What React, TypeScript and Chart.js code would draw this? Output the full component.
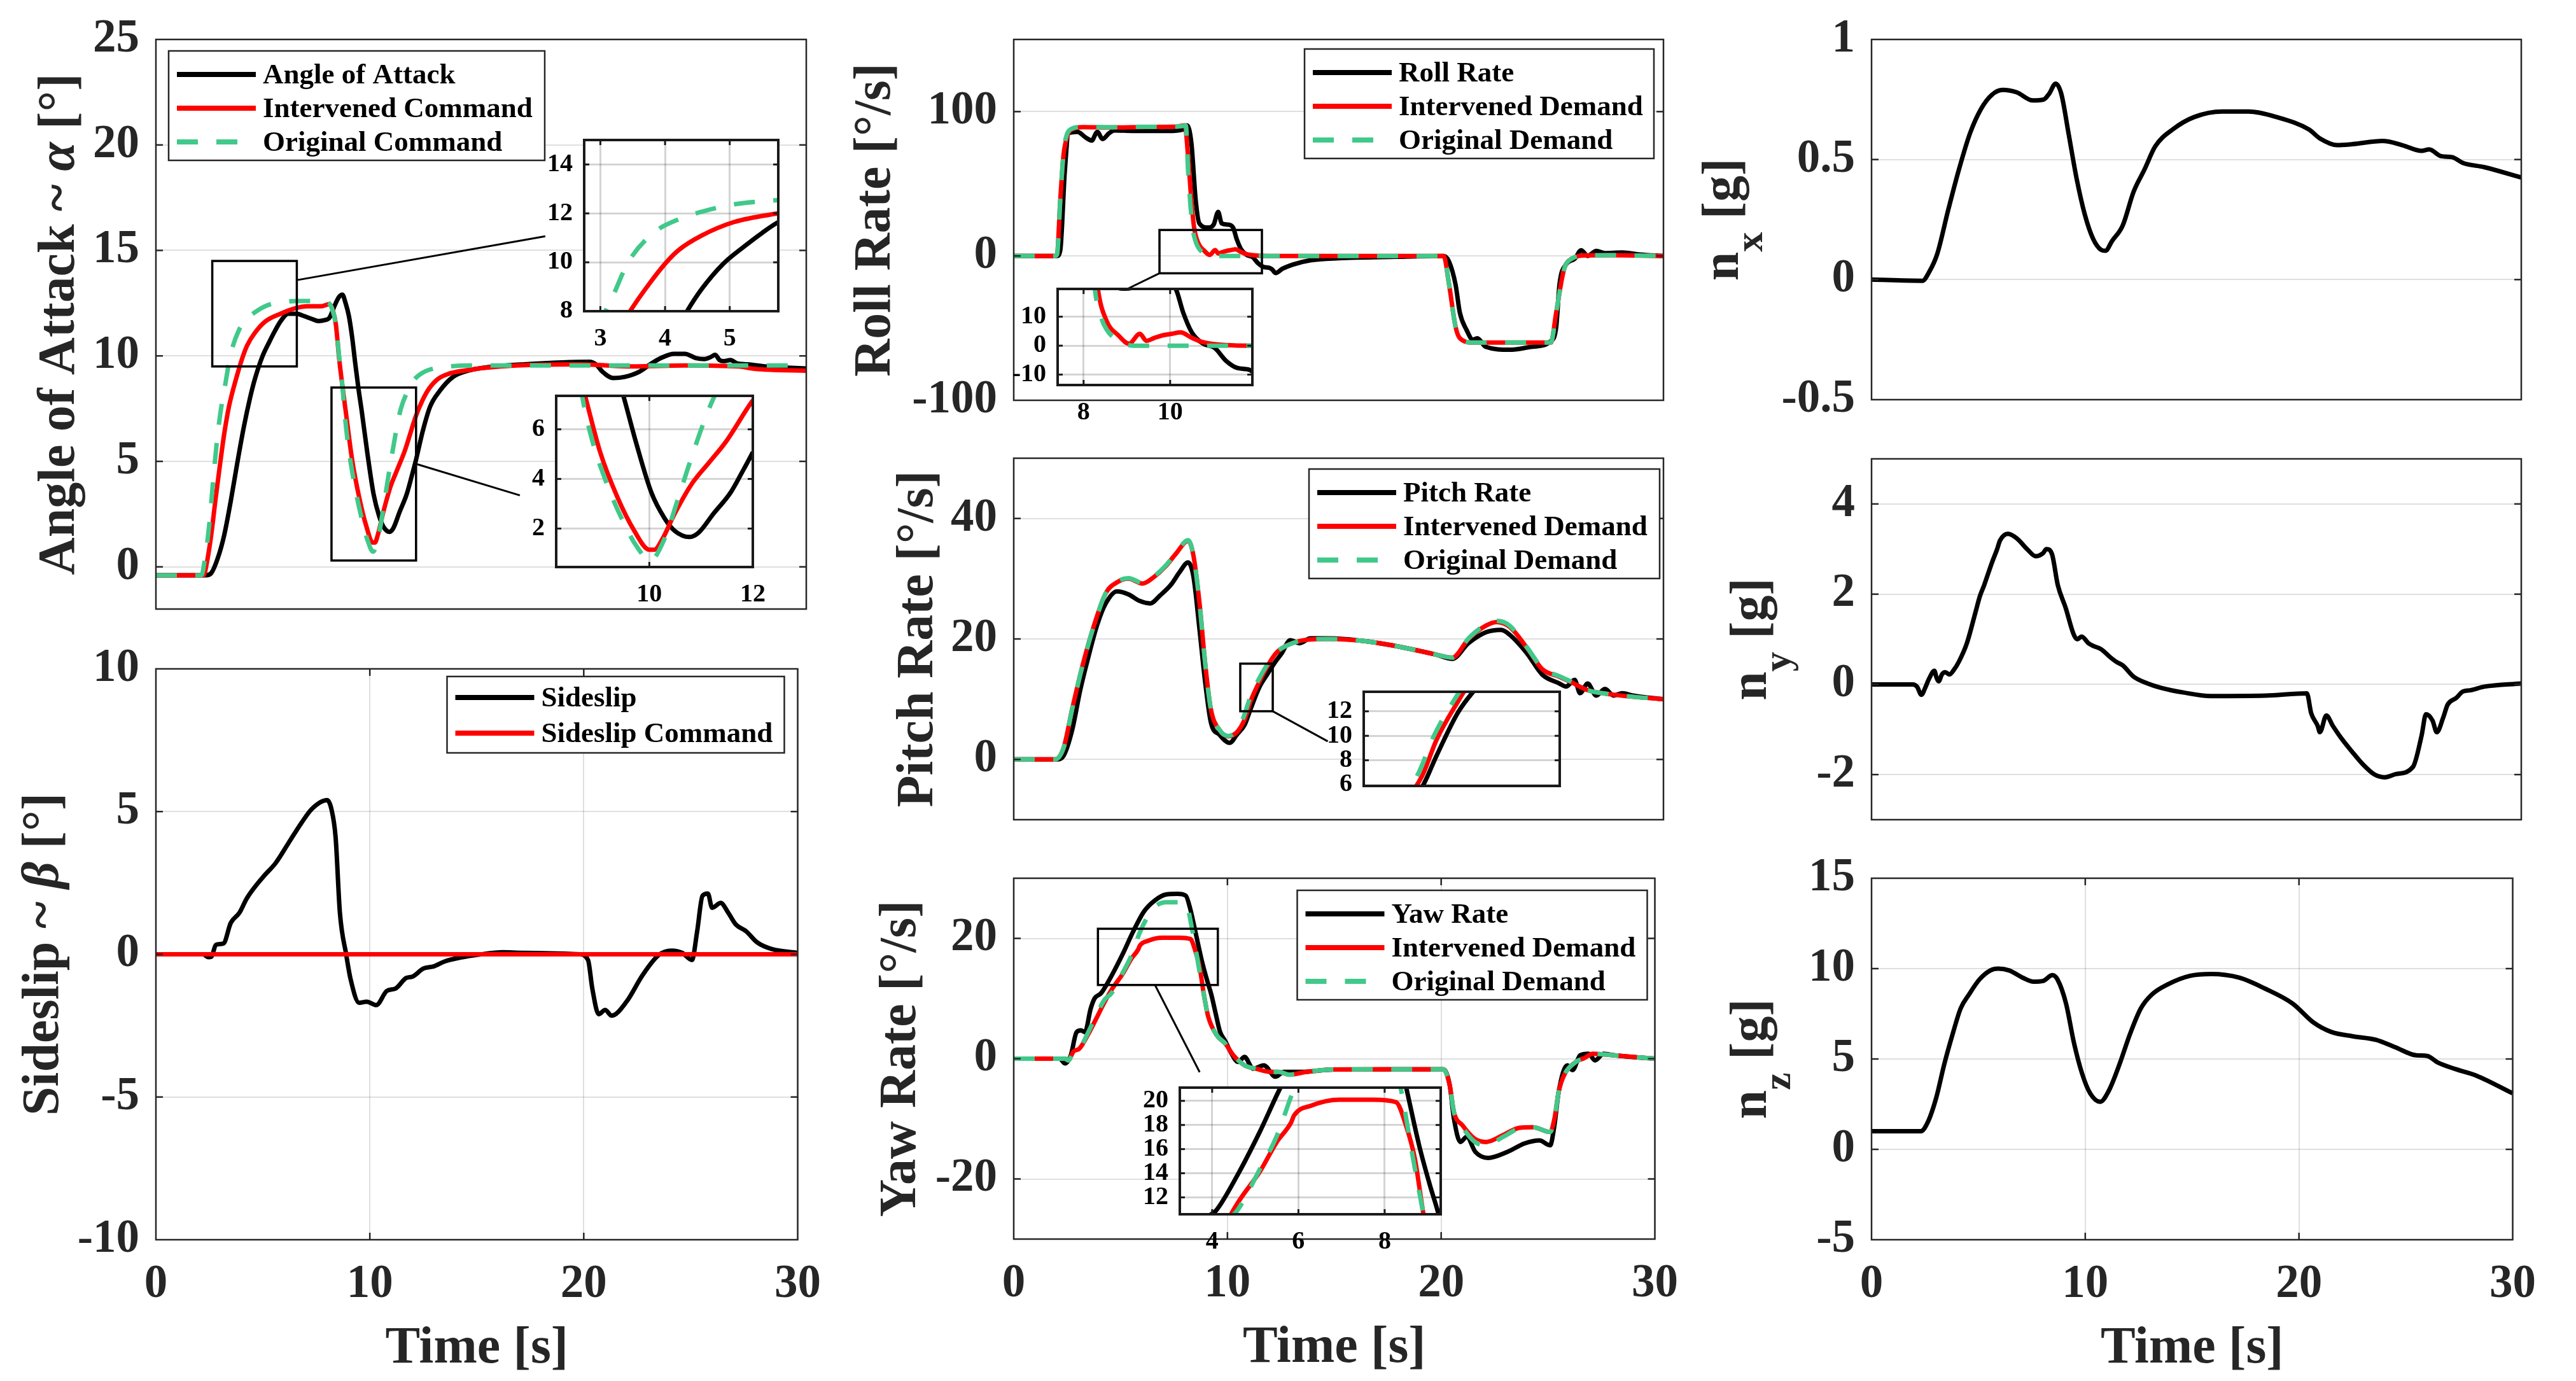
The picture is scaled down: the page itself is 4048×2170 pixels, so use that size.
import React, { useEffect, useRef } from 'react';
import { Chart, registerables } from 'chart.js';

Chart.register(...registerables);

type Pt = [number, number];

// ---------------- tick values ----------------
const timeTicks = [0, 10, 20, 30];
const aoaTicks = [0, 5, 10, 15, 20, 25];
const betaTicks = [-10, -5, 0, 5, 10];
const rollTicks = [-100, 0, 100];
const pitchTicks = [0, 20, 40];
const yawTicks = [-20, 0, 20];
const nxTicks = [-0.5, 0, 0.5, 1];
const nyTicks = [-2, 0, 2, 4];
const nzTicks = [-5, 0, 5, 10, 15];

const aoaInsetAX = [3, 4, 5];
const aoaInsetAY = [8, 10, 12, 14];
const aoaInsetBX = [10, 12];
const aoaInsetBY = [2, 4, 6];
const rollInsetX = [8, 10];
const rollInsetY = [-10, 0, 10];
const pitchInsetY = [6, 8, 10, 12];
const yawInsetX = [4, 6, 8];
const yawInsetY = [12, 14, 16, 18, 20];

// ---------------- legend labels ----------------
const aoaLegend = ['Angle of Attack', 'Intervened Command', 'Original Command'];
const betaLegend = ['Sideslip', 'Sideslip Command'];
const rollLegend = ['Roll Rate', 'Intervened Demand', 'Original Demand'];
const pitchLegend = ['Pitch Rate', 'Intervened Demand', 'Original Demand'];
const yawLegend = ['Yaw Rate', 'Intervened Demand', 'Original Demand'];

// ---------------- series (time [s], value) ----------------
const aoaActual: Pt[] = [[0,-0.4],[2.3,-0.4],[2.55,-0.3],[2.85,0.4],[3.15,1.5],[3.45,3.1],[3.75,4.9],[4.05,6.6],[4.34,8.0],[4.57,8.92],[4.9,9.94],[5.23,10.66],[5.5,11.2],[5.75,11.64],[6.1,12.0],[6.5,12.0],[6.8,11.9],[7.2,11.75],[7.5,11.65],[7.8,11.7],[8.0,11.8],[8.25,12.4],[8.45,12.8],[8.6,12.9],[8.75,12.5],[8.9,11.9],[9.05,10.9],[9.2,9.6],[9.35,8.4],[9.5,7.34],[9.75,5.42],[10.04,3.45],[10.29,2.43],[10.49,1.91],[10.78,1.66],[10.95,1.83],[11.24,2.6],[11.57,3.45],[11.8,4.3],[12.0,5.08],[12.3,6.4],[12.65,7.6],[13.1,8.35],[13.7,9.0],[14.4,9.3],[15.2,9.45],[17.0,9.6],[20.0,9.72],[20.3,9.6],[20.6,9.25],[21.1,8.95],[21.6,9.0],[22.3,9.25],[22.8,9.6],[23.3,9.9],[23.9,10.1],[24.4,10.1],[24.9,9.9],[25.3,9.85],[25.6,9.95],[25.8,10.05],[26.0,9.8],[26.2,9.75],[26.5,9.8],[26.8,9.65],[27.3,9.6],[28.1,9.5],[29.0,9.45],[30,9.4]];
const aoaIntervened: Pt[] = [[0,-0.4],[2.2,-0.4],[2.35,0.2],[2.55,1.5],[2.75,3.2],[2.95,4.8],[3.15,6.3],[3.35,7.5],[3.46,8.0],[3.75,9.1],[4.02,10.0],[4.21,10.5],[4.57,11.1],[5.07,11.65],[5.75,12.0],[6.4,12.25],[7.0,12.35],[7.6,12.35],[8.0,12.45],[8.15,12.2],[8.3,11.5],[8.45,9.9],[8.6,8.6],[8.76,7.34],[9.05,5.08],[9.38,3.28],[9.71,1.91],[10.0,1.15],[10.1,1.15],[10.25,1.57],[10.49,2.6],[10.82,3.8],[11.15,4.65],[11.48,5.5],[12.0,7.17],[12.3,7.9],[12.6,8.45],[13.0,8.9],[13.5,9.15],[14.2,9.3],[15.9,9.5],[19.6,9.6],[22.0,9.5],[24.4,9.55],[26.9,9.5],[27.5,9.4],[28.1,9.35],[30,9.3]];
const aoaOriginal: Pt[] = [[0,-0.4],[2.1,-0.4],[2.25,0.3],[2.45,1.9],[2.65,4.2],[2.85,6.3],[3.08,8.0],[3.2,8.66],[3.43,10.0],[3.82,11.2],[4.25,11.8],[4.57,12.07],[5.07,12.37],[5.75,12.54],[6.5,12.6],[7.4,12.6],[7.9,12.55],[8.1,12.3],[8.3,11.5],[8.45,10.0],[8.6,8.6],[8.7,7.34],[8.89,5.6],[9.18,3.8],[9.46,2.43],[9.75,1.3],[10.02,0.72],[10.29,1.57],[10.54,3.1],[10.78,4.65],[11.11,6.6],[11.3,7.5],[11.6,8.3],[11.9,8.85],[12.3,9.2],[12.8,9.4],[13.5,9.5],[14.5,9.55],[30,9.55]];

const betaActual: Pt[] = [[0,0],[2.2,0],[2.45,-0.1],[2.6,-0.08],[2.8,0.33],[3.16,0.38],[3.5,1.1],[3.9,1.45],[4.25,1.96],[5.0,2.7],[5.6,3.2],[6.2,3.9],[6.8,4.6],[7.3,5.1],[8.0,5.4],[8.2,5.1],[8.4,4.1],[8.6,1.46],[8.9,-0.03],[9.1,-0.87],[9.5,-1.7],[9.85,-1.66],[10.3,-1.78],[10.8,-1.28],[11.2,-1.2],[11.7,-0.83],[12.0,-0.78],[12.5,-0.5],[13.0,-0.42],[13.5,-0.25],[14.2,-0.12],[15.2,0],[16.2,0.07],[17.15,0.05],[19.8,0],[20.2,-0.2],[20.4,-1.2],[20.7,-2.1],[21.0,-1.95],[21.3,-2.15],[22.0,-1.66],[22.75,-0.73],[23.5,-0.03],[24.1,0.13],[24.6,0.05],[25.06,-0.2],[25.3,0.8],[25.55,2.05],[25.8,2.13],[26.0,1.63],[26.4,1.8],[26.75,1.46],[27.1,1.05],[27.6,0.8],[28.1,0.42],[28.8,0.18],[30,0.05]];
const betaCommand: Pt[] = [[0,0],[30,0]];

const rollActual: Pt[] = [[0,0],[2.0,0],[2.15,4],[2.36,59],[2.54,85],[2.94,86],[3.33,82],[3.6,80],[3.86,86],[4.1,81],[4.4,85],[4.64,87],[5.56,86.6],[7.13,86.6],[7.8,87.6],[8.0,90.5],[8.2,78.7],[8.4,39],[8.57,22.6],[8.97,19.7],[9.23,21.7],[9.44,30.5],[9.6,22.6],[9.9,21.7],[10.13,19.6],[10.3,11.5],[10.5,4.6],[10.76,0.7],[11.03,-0.8],[11.29,-5.2],[11.55,-7.7],[11.8,-8.2],[11.92,-9.2],[12.1,-11.8],[12.4,-8.9],[12.9,-5.9],[13.7,-3],[15.0,-1.6],[17.6,-0.6],[19.85,0],[20.1,-3.9],[20.4,-19.7],[20.6,-39.4],[20.9,-51],[21.2,-58],[21.4,-57],[21.8,-63],[22.9,-65],[23.9,-63],[24.8,-59],[25.05,-49],[25.2,-19.7],[25.5,-5.9],[25.9,-2],[26.2,4],[26.5,0],[26.9,3.5],[27.3,2],[28.1,2.4],[28.9,1],[30,0]];
const rollIntervened: Pt[] = [[0,0],[1.9,0],[2.0,1],[2.15,39],[2.3,70],[2.4,79],[2.55,86],[2.67,87.6],[3.2,89.3],[4.5,89],[6.1,89.4],[7.5,89.6],[7.9,90.5],[8.05,69],[8.2,39],[8.33,19.6],[8.53,8.6],[8.8,3.6],[9.05,0.7],[9.3,4.1],[9.45,1.7],[9.64,2.7],[9.84,3.6],[10.04,4.1],[10.24,4.6],[10.5,2.7],[10.76,1.2],[11.29,0.2],[12,0],[19.85,0],[20.1,-19.7],[20.4,-49],[20.6,-57],[21.2,-60],[24.8,-60],[25.05,-39],[25.4,-9.8],[25.75,-2],[26.5,0.4],[27.5,0.5],[30,0]];
const rollOriginal: Pt[] = [[0,0],[1.9,0],[2.0,1],[2.15,39],[2.3,72],[2.45,84],[2.65,88],[3.2,89.5],[4.5,89.2],[6.1,89.5],[7.5,89.6],[7.95,90.3],[8.05,59],[8.26,19.6],[8.4,10],[8.53,5.6],[8.8,1.7],[9.18,0],[19.85,0],[20.1,-19.7],[20.4,-49],[20.6,-57],[21.2,-60],[24.8,-60],[25.05,-39],[25.4,-9.8],[25.75,-2],[26.5,0.4],[27.5,0.5],[30,0]];

const pitchActual: Pt[] = [[0,0],[2.0,0],[2.3,0.6],[2.7,4.9],[3.07,11.5],[3.46,17.2],[3.86,22.4],[4.25,25.9],[4.77,27.9],[5.3,27.4],[5.82,26.3],[6.3,25.9],[6.75,27.2],[7.26,29],[7.66,31.1],[8.05,32.7],[8.3,30.3],[8.58,21.5],[8.84,12.8],[9.1,6.2],[9.5,4.1],[9.97,2.75],[10.3,4.1],[10.67,5.8],[10.94,8.4],[11.33,11.9],[11.7,14.1],[12.1,16.3],[12.37,17.6],[12.77,19.8],[13.2,19.3],[13.7,20.1],[14.5,20.1],[16.3,19.6],[18.1,18.5],[19.5,17.4],[20.25,16.7],[21.0,19.3],[21.8,21.1],[22.5,21.5],[22.9,20.7],[23.7,17.6],[24.4,14.1],[25.2,12.6],[25.5,12.1],[25.9,13.2],[26.15,11.0],[26.5,12.6],[26.9,10.6],[27.3,11.7],[27.7,10.6],[28.1,11],[28.6,10.6],[30,10]];
const pitchIntervened: Pt[] = [[0,0],[1.9,0],[2.3,1.9],[2.7,8.4],[3.2,15.9],[3.72,22.4],[4.25,27.6],[4.77,29.4],[5.3,30],[5.95,29.2],[6.48,30.3],[7.0,32],[7.5,34.2],[8.05,36.3],[8.3,33.8],[8.58,25.9],[8.84,15.9],[9.1,8.4],[9.5,4.9],[9.9,3.85],[10.3,4.5],[10.67,6.7],[10.94,9.7],[11.33,12.8],[11.7,15.4],[12.1,17.6],[12.6,18.9],[13.4,19.8],[14.5,20],[16.3,19.6],[18.1,18.5],[19.5,17.4],[20.25,16.9],[21.0,20],[21.8,22.2],[22.3,22.8],[22.9,22],[23.7,18.5],[24.4,15],[25.2,13.7],[25.75,12.8],[26.5,11.5],[27.6,10.8],[28.6,10.4],[30,10]];
const pitchOriginal: Pt[] = [[0,0],[1.9,0],[2.3,1.9],[2.7,8.4],[3.2,15.9],[3.72,22.4],[4.25,27.6],[4.77,29.5],[5.3,30.1],[5.95,29.3],[6.48,30.4],[7.0,32.1],[7.5,34.3],[8.05,36.4],[8.3,33.8],[8.58,25.9],[8.84,15.9],[9.1,8.4],[9.5,4.9],[9.9,3.9],[10.3,4.8],[10.6,6.9],[10.9,10.1],[11.3,13.2],[11.7,15.7],[12.1,17.7],[12.6,18.9],[13.4,19.8],[14.5,20],[16.3,19.6],[18.1,18.5],[19.5,17.4],[20.25,16.9],[21.0,20.1],[21.8,22.4],[22.3,23.0],[22.9,22.2],[23.7,18.6],[24.4,15.2],[25.2,13.8],[25.75,12.9],[26.5,11.5],[27.6,10.8],[28.6,10.4],[30,10]];

const yawActual: Pt[] = [[0,0],[2.15,0],[2.4,-0.8],[2.67,0.55],[2.94,4.4],[3.15,4.7],[3.33,4.4],[3.6,8.3],[3.78,10],[4.09,10.9],[4.58,13.8],[5.1,17.4],[5.57,21.0],[6.08,24.4],[6.6,26.3],[7.13,27.3],[7.66,27.4],[8.05,27.1],[8.26,24.9],[8.5,21.1],[8.8,16.3],[9.05,13],[9.25,10.6],[9.45,7.5],[9.65,4.5],[9.9,2.9],[10.15,1.1],[10.5,-0.55],[10.8,0.28],[11.2,-1.66],[11.7,-1.1],[12.25,-3.0],[12.64,-2.2],[13.4,-2.2],[15,-1.8],[17.6,-1.77],[20.1,-1.77],[20.4,-4.4],[20.6,-10],[20.9,-13.85],[21.2,-13.0],[21.6,-15.5],[22.2,-16.5],[23.1,-15.5],[23.9,-14.1],[24.6,-13.6],[25.1,-14.4],[25.3,-11.1],[25.5,-5.5],[25.9,-1.1],[26.15,-1.9],[26.5,0.55],[26.9,0.83],[27.2,-0.28],[27.6,0.83],[28.1,0.55],[30,0]];
const yawIntervened: Pt[] = [[0,0],[2.4,0],[2.55,-0.3],[2.8,1.2],[3.07,1.66],[3.46,3.9],[3.86,6.65],[4.25,9.4],[4.64,11.8],[5.1,14.1],[5.5,16.6],[5.83,18.2],[5.9,18.8],[6.29,19.6],[6.95,20.1],[7.74,20.1],[8.26,19.9],[8.5,17.9],[8.7,15.2],[8.9,10.6],[9.1,7.0],[9.5,3.9],[9.9,2.5],[10.28,0.55],[10.8,-1.1],[11.33,-1.66],[12.0,-2.2],[12.4,-2.2],[12.9,-2.66],[13.7,-2.2],[15,-1.8],[17.6,-1.77],[20.1,-1.77],[20.4,-4.4],[20.6,-8.9],[21.0,-11.1],[21.56,-13.3],[22.1,-13.85],[22.9,-12.7],[23.65,-11.5],[24.3,-11.4],[25.1,-12.2],[25.3,-10],[25.5,-5.5],[25.75,-2.77],[26.3,-0.55],[26.7,0.1],[27.1,0.83],[28.1,0.55],[30,0]];
const yawOriginal: Pt[] = [[0,0],[2.4,0],[2.55,-0.3],[2.8,1.2],[3.07,1.66],[3.46,4.2],[3.86,7.2],[4.25,9.8],[4.58,10.9],[5.1,14.3],[5.5,17.1],[5.9,21.0],[6.3,23.8],[6.7,25.5],[7.13,26.0],[7.8,26.0],[8.05,25.8],[8.37,21.1],[8.66,15.2],[8.9,10.6],[9.1,7.0],[9.5,3.9],[9.9,2.5],[10.28,0.55],[10.8,-1.1],[11.33,-1.66],[12.0,-2.2],[12.4,-2.2],[12.9,-2.66],[13.7,-2.2],[15,-1.8],[17.6,-1.77],[20.1,-1.77],[20.4,-4.4],[20.6,-8.9],[21.0,-11.4],[21.56,-13.8],[22.1,-14.4],[22.9,-13.0],[23.65,-11.6],[24.3,-11.4],[25.1,-12.2],[25.3,-10],[25.5,-5.5],[25.75,-2.77],[26.3,-0.55],[26.7,0.1],[27.1,0.83],[28.1,0.55],[30,0]];

const nxActual: Pt[] = [[0,0],[2.35,-0.005],[2.65,0.03],[3.03,0.106],[3.54,0.29],[4.04,0.46],[4.55,0.61],[5.05,0.71],[5.56,0.77],[6.06,0.79],[6.7,0.78],[7.45,0.746],[7.95,0.75],[8.2,0.774],[8.5,0.816],[8.76,0.774],[9.1,0.607],[9.47,0.42],[9.85,0.27],[10.23,0.17],[10.6,0.124],[10.8,0.12],[11.1,0.16],[11.6,0.226],[12.1,0.366],[12.6,0.458],[13.1,0.555],[13.9,0.625],[14.9,0.677],[16.2,0.7],[17.4,0.7],[18.7,0.677],[20.2,0.625],[20.7,0.588],[21.5,0.56],[22.2,0.564],[23.6,0.577],[24.5,0.56],[25.4,0.536],[25.75,0.542],[26.3,0.514],[26.8,0.51],[27.3,0.486],[28.3,0.468],[30,0.425]];
const nyActual: Pt[] = [[0,0],[1.9,0],[2.1,-0.05],[2.3,-0.23],[2.5,-0.05],[2.65,0.12],[2.9,0.3],[3.0,0.15],[3.1,0.07],[3.25,0.22],[3.4,0.27],[3.6,0.22],[3.8,0.32],[4.04,0.51],[4.4,0.91],[4.8,1.6],[5.0,1.95],[5.2,2.2],[5.56,2.7],[5.8,3.0],[5.93,3.19],[6.3,3.34],[6.7,3.24],[7.2,2.99],[7.58,2.84],[7.9,2.9],[8.08,3.0],[8.33,2.89],[8.6,2.2],[8.96,1.7],[9.34,1.1],[9.5,1.0],[9.7,1.06],[10.0,0.92],[10.2,0.86],[10.6,0.78],[11.0,0.61],[11.3,0.5],[11.6,0.42],[12.1,0.17],[12.75,0.02],[13.4,-0.08],[14.4,-0.18],[15.66,-0.26],[18.2,-0.25],[20.1,-0.2],[20.3,-0.64],[20.6,-0.92],[20.7,-1.06],[21.0,-0.69],[21.3,-0.92],[21.7,-1.2],[22.2,-1.5],[22.7,-1.78],[23.2,-1.99],[23.7,-2.06],[24.2,-1.99],[25.0,-1.83],[25.4,-1.13],[25.6,-0.66],[25.9,-0.8],[26.1,-1.06],[26.4,-0.73],[26.6,-0.45],[27.0,-0.3],[27.3,-0.16],[27.65,-0.13],[28.3,-0.05],[30,0.02]];
const nzActual: Pt[] = [[0,1.0],[2.3,1.0],[2.65,1.55],[3.03,2.87],[3.4,4.7],[3.8,6.4],[4.17,7.8],[4.55,8.55],[5.05,9.4],[5.56,9.9],[5.93,10.0],[6.44,9.9],[7.07,9.5],[7.58,9.28],[8.03,9.32],[8.46,9.64],[8.7,9.4],[9.1,8.07],[9.47,5.9],[9.85,4.2],[10.23,3.1],[10.7,2.63],[11.1,3.24],[11.6,4.7],[12.1,6.4],[12.6,7.8],[13.1,8.55],[13.9,9.15],[14.9,9.6],[15.9,9.7],[17.2,9.5],[18.4,8.9],[19.7,8.07],[20.7,7.0],[21.5,6.5],[22.5,6.26],[23.6,6.06],[24.5,5.65],[25.5,5.2],[26.0,5.17],[26.5,4.8],[27.3,4.45],[28.3,4.08],[30,3.1]];

// ---------------- styles ----------------
const FONT = '"Liberation Serif", "Times New Roman", Times, serif';
const BLACK = '#000000';
const RED = '#FF0000';
const GREEN = '#40C98A';
const AXIS = '#262626';
const GRID = 'rgba(38,38,38,0.15)';
const DASH = [33, 29];
const TICK_SIZE = 73;
const TITLE_SIZE = 82;
const SUB_SIZE = 62;
const SUB_DROP = 38;
const LINE_W = 7;

type Seg = { t: string; italic?: boolean; sub?: boolean };
type Series = { pts: Pt[]; color: string; dash?: boolean };
type Rect = { l: number; t: number; r: number; b: number };
type InsetSpec = {
  rect: Rect; xMin: number; xMax: number; yMin: number; yMax: number;
  xTicks: number[]; yTicks: number[]; xLabels: boolean; xGrid: boolean;
};
type LegendSpec = { labels: string[]; align: 'left' | 'right'; dx: number; dy: number; w: number; h: number; first: number; step: number };
type PanelSpec = {
  rect: Rect; yMin: number; yMax: number; yTicks: number[]; bottom: boolean;
  series: Series[]; legend?: LegendSpec; yTitle: Seg[]; yTitleOffset: number;
  boxes: number[][]; connectors: number[][]; insets: InsetSpec[];
};

const threeSeries = (a: Pt[], b: Pt[], c: Pt[]): Series[] => [
  { pts: a, color: BLACK }, { pts: b, color: RED }, { pts: c, color: GREEN, dash: true },
];

const panels: PanelSpec[] = [
  {
    rect: { l: 245, t: 62, r: 1267, b: 957 }, yMin: -2, yMax: 25, yTicks: aoaTicks, bottom: false,
    series: threeSeries(aoaActual, aoaIntervened, aoaOriginal),
    legend: { labels: aoaLegend, align: 'left', dx: 20, dy: 18, w: 591, h: 172, first: 37, step: 53 },
    yTitle: [{ t: 'Angle of Attack ~ ' }, { t: 'α', italic: true }, { t: ' [°]' }], yTitleOffset: 129,
    boxes: [[2.6, 6.5, 9.5, 14.5], [8.1, 12.0, 0.3, 8.5]],
    connectors: [[6.55, 13.6, 17.96, 15.67], [12.03, 4.87, 16.79, 3.39]],
    insets: [
      { rect: { l: 918, t: 220, r: 1223, b: 489 }, xMin: 2.75, xMax: 5.75, yMin: 8, yMax: 15, xTicks: aoaInsetAX, yTicks: aoaInsetAY, xLabels: true, xGrid: true },
      { rect: { l: 874, t: 622, r: 1183, b: 891 }, xMin: 8.2, xMax: 12, yMin: 0.45, yMax: 7.35, xTicks: aoaInsetBX, yTicks: aoaInsetBY, xLabels: true, xGrid: true },
    ],
  },
  {
    rect: { l: 245, t: 1051, r: 1267, b: 1948 }, yMin: -10, yMax: 10, yTicks: betaTicks, bottom: true,
    series: [{ pts: betaActual, color: BLACK }, { pts: betaCommand, color: RED }],
    legend: { labels: betaLegend, align: 'right', dx: 21, dy: 12, w: 530, h: 120, first: 33, step: 56 },
    yTitle: [{ t: 'Sideslip ~ ' }, { t: 'β', italic: true }, { t: ' [°]' }], yTitleOffset: 154,
    boxes: [], connectors: [], insets: [],
  },
  {
    rect: { l: 1593, t: 62, r: 2614, b: 629 }, yMin: -100, yMax: 150, yTicks: rollTicks, bottom: false,
    series: threeSeries(rollActual, rollIntervened, rollOriginal),
    legend: { labels: rollLegend, align: 'right', dx: 15, dy: 15, w: 549, h: 172, first: 37, step: 53 },
    yTitle: [{ t: 'Roll Rate [°/s]' }], yTitleOffset: 195,
    boxes: [[6.73, 11.46, -12, 18]], connectors: [[6.73, -12, 5.29, -22.5]],
    insets: [
      { rect: { l: 1662, t: 454, r: 1968, b: 605 }, xMin: 7.4, xMax: 11.9, yMin: -13.6, yMax: 19.6, xTicks: rollInsetX, yTicks: rollInsetY, xLabels: true, xGrid: true },
    ],
  },
  {
    rect: { l: 1593, t: 720, r: 2614, b: 1288 }, yMin: -10, yMax: 50, yTicks: pitchTicks, bottom: false,
    series: threeSeries(pitchActual, pitchIntervened, pitchOriginal),
    legend: { labels: pitchLegend, align: 'right', dx: 6, dy: 17, w: 551, h: 172, first: 37, step: 53 },
    yTitle: [{ t: 'Pitch Rate [°/s]' }], yTitleOffset: 128,
    boxes: [[10.46, 11.96, 8, 15.9]], connectors: [[11.96, 8.0, 14.5, 3.0]],
    insets: [
      { rect: { l: 2143, t: 1087, r: 2451, b: 1235 }, xMin: 9.6, xMax: 13.2, yMin: 5.9, yMax: 13.6, xTicks: [], yTicks: pitchInsetY, xLabels: false, xGrid: false },
    ],
  },
  {
    rect: { l: 1593, t: 1380, r: 2614, b: 1947 }, yMin: -30, yMax: 30, yTicks: yawTicks, bottom: true,
    series: threeSeries(yawActual, yawIntervened, yawOriginal),
    legend: { labels: yawLegend, align: 'right', dx: 12, dy: 19, w: 550, h: 172, first: 37, step: 53 },
    yTitle: [{ t: 'Yaw Rate [°/s]' }], yTitleOffset: 155,
    boxes: [[3.94, 9.55, 12.25, 21.6]], connectors: [[6.61, 12.25, 8.7, -2.25]],
    insets: [
      { rect: { l: 1854, t: 1709, r: 2264, b: 1908 }, xMin: 3.25, xMax: 9.3, yMin: 10.6, yMax: 21.1, xTicks: yawInsetX, yTicks: yawInsetY, xLabels: true, xGrid: true },
    ],
  },
  {
    rect: { l: 2941, t: 62, r: 3962, b: 628 }, yMin: -0.5, yMax: 1, yTicks: nxTicks, bottom: false,
    series: [{ pts: nxActual, color: BLACK }],
    yTitle: [{ t: 'n' }, { t: 'x', sub: true }, { t: ' [g]' }], yTitleOffset: 210,
    boxes: [], connectors: [], insets: [],
  },
  {
    rect: { l: 2941, t: 721, r: 3962, b: 1288 }, yMin: -3, yMax: 5, yTicks: nyTicks, bottom: false,
    series: [{ pts: nyActual, color: BLACK }],
    yTitle: [{ t: 'n' }, { t: 'y', sub: true }, { t: ' [g]' }], yTitleOffset: 166,
    boxes: [], connectors: [], insets: [],
  },
  {
    rect: { l: 2941, t: 1380, r: 3962, b: 1948 }, yMin: -5, yMax: 15, yTicks: nzTicks, bottom: true,
    series: [{ pts: nzActual, color: BLACK }],
    yTitle: [{ t: 'n' }, { t: 'z', sub: true }, { t: ' [g]' }], yTitleOffset: 166,
    boxes: [], connectors: [], insets: [],
  },
];

// ---------------- helpers ----------------
function mainBox(p: PanelSpec) {
  const L = Math.min(280, p.rect.l);
  const T = 80, R = 50;
  const B = p.bottom ? 215 : 80;
  const W = L + (p.rect.r - p.rect.l) + R;
  const H = T + (p.rect.b - p.rect.t) + B;
  return { L, T, R, B, W, H, left: p.rect.l - L, top: p.rect.t - T };
}
function insetBox(ins: InsetSpec) {
  const L = 80, T = 50, R = 45;
  const B = ins.xLabels ? 80 : 50;
  const W = L + (ins.rect.r - ins.rect.l) + R;
  const H = T + (ins.rect.b - ins.rect.t) + B;
  return { L, T, R, B, W, H, left: ins.rect.l - L, top: ins.rect.t - T };
}

function drawYTitle(ctx: CanvasRenderingContext2D, segs: Seg[], x: number, cy: number) {
  const fontFor = (s: Seg) => `${s.italic ? 'italic ' : ''}bold ${s.sub ? SUB_SIZE : TITLE_SIZE}px ${FONT}`;
  const ws: number[] = [];
  let total = 0;
  segs.forEach((s) => { ctx.font = fontFor(s); const w = ctx.measureText(s.t).width; ws.push(w); total += w; });
  ctx.save();
  ctx.translate(x, cy);
  ctx.rotate(-Math.PI / 2);
  ctx.fillStyle = AXIS;
  ctx.textAlign = 'left';
  ctx.textBaseline = 'alphabetic';
  let pos = -total / 2;
  segs.forEach((s, i) => { ctx.font = fontFor(s); ctx.fillText(s.t, pos, s.sub ? SUB_DROP : 0); pos += ws[i]; });
  ctx.restore();
}

function line(ctx: CanvasRenderingContext2D, x1: number, y1: number, x2: number, y2: number) {
  ctx.beginPath(); ctx.moveTo(x1, y1); ctx.lineTo(x2, y2); ctx.stroke();
}

function makeDatasets(series: Series[], inset: boolean) {
  return series.map((s, i) => ({
    data: s.pts.map(([x, y]) => ({ x, y })),
    borderColor: s.color,
    backgroundColor: s.color,
    borderWidth: LINE_W,
    borderDash: s.dash ? DASH : [],
    borderCapStyle: 'butt',
    borderJoinStyle: 'round',
    pointRadius: 0,
    fill: false,
    cubicInterpolationMode: 'monotone',
    order: series.length - i,
    clip: inset ? 0 : 4,
  }));
}

function mainConfig(p: PanelSpec): any {
  const bx = mainBox(p);
  const xTicks = p.bottom ? timeTicks : [];
  const decor = {
    id: 'decor',
    afterDatasetsDraw(chart: any) {
      const ctx: CanvasRenderingContext2D = chart.ctx;
      const a = chart.chartArea;
      const xs = chart.scales.x, ys = chart.scales.y;
      ctx.save();
      ctx.setLineDash([]);
      // zoom boxes
      ctx.strokeStyle = '#000';
      ctx.lineWidth = 3.5;
      p.boxes.forEach(([x0, x1, y0, y1]) => {
        const px0 = xs.getPixelForValue(x0), px1 = xs.getPixelForValue(x1);
        const py0 = ys.getPixelForValue(y0), py1 = ys.getPixelForValue(y1);
        ctx.strokeRect(px0, py1, px1 - px0, py0 - py1);
      });
      ctx.lineWidth = 3;
      p.connectors.forEach(([x0, y0, x1, y1]) => {
        line(ctx, xs.getPixelForValue(x0), ys.getPixelForValue(y0), xs.getPixelForValue(x1), ys.getPixelForValue(y1));
      });
      // frame
      ctx.strokeStyle = AXIS;
      ctx.lineWidth = 2.5;
      ctx.strokeRect(a.left, a.top, a.right - a.left, a.bottom - a.top);
      // inward tick marks
      const tl = 11;
      p.yTicks.forEach((v) => {
        const py = ys.getPixelForValue(v);
        if (py > a.top + 2 && py < a.bottom - 2) { line(ctx, a.left, py, a.left + tl, py); line(ctx, a.right, py, a.right - tl, py); }
      });
      xTicks.forEach((v) => {
        const px = xs.getPixelForValue(v);
        if (px > a.left + 2 && px < a.right - 2) { line(ctx, px, a.bottom, px, a.bottom - tl); line(ctx, px, a.top, px, a.top + tl); }
      });
      // legend
      if (p.legend) {
        const lg = p.legend;
        const lx = lg.align === 'left' ? a.left + lg.dx : a.right - lg.dx - lg.w;
        const ly = a.top + lg.dy;
        ctx.fillStyle = '#ffffff';
        ctx.fillRect(lx, ly, lg.w, lg.h);
        ctx.strokeStyle = AXIS;
        ctx.lineWidth = 2.5;
        ctx.strokeRect(lx, ly, lg.w, lg.h);
        lg.labels.forEach((lab, i) => {
          const s = p.series[i];
          const cy = ly + lg.first + i * lg.step;
          ctx.strokeStyle = s.color;
          ctx.lineWidth = 8;
          ctx.setLineDash(s.dash ? DASH : []);
          line(ctx, lx + 13, cy, lx + 137, cy);
          ctx.setLineDash([]);
          ctx.fillStyle = '#000';
          ctx.font = `bold 45px ${FONT}`;
          ctx.textAlign = 'left';
          ctx.textBaseline = 'middle';
          ctx.fillText(lab, lx + 148, cy + 2);
        });
      }
      // titles
      drawYTitle(ctx, p.yTitle, a.left - p.yTitleOffset, (a.top + a.bottom) / 2);
      if (p.bottom) {
        ctx.fillStyle = AXIS;
        ctx.font = `bold ${TITLE_SIZE}px ${FONT}`;
        ctx.textAlign = 'center';
        ctx.textBaseline = 'alphabetic';
        ctx.fillText('Time [s]', (a.left + a.right) / 2, a.bottom + 193);
      }
      ctx.restore();
    },
  };
  return {
    type: 'line',
    data: { datasets: makeDatasets(p.series, false) },
    options: {
      responsive: false, maintainAspectRatio: false, animation: false, devicePixelRatio: 1, events: [],
      layout: { padding: { left: 0, top: bx.T, right: bx.R, bottom: 0 }, autoPadding: false },
      plugins: { legend: { display: false }, tooltip: { enabled: false }, title: { display: false } },
      scales: {
        x: {
          type: 'linear', min: 0, max: 30,
          afterFit: (s: any) => { s.height = bx.B; },
          afterBuildTicks: (s: any) => { s.ticks = xTicks.map((v) => ({ value: v })); },
          grid: { display: p.bottom, color: GRID, lineWidth: 2, drawTicks: false },
          border: { display: false },
          ticks: {
            display: p.bottom, color: AXIS, font: { family: FONT, size: TICK_SIZE, weight: 'bold' },
            padding: 27, maxRotation: 0, autoSkip: false, callback: (v: any) => String(v),
          },
        },
        y: {
          type: 'linear', min: p.yMin, max: p.yMax,
          afterFit: (s: any) => { s.width = bx.L; },
          afterBuildTicks: (s: any) => { s.ticks = p.yTicks.map((v) => ({ value: v })); },
          grid: { color: GRID, lineWidth: 2, drawTicks: false },
          border: { display: false },
          ticks: {
            color: AXIS, font: { family: FONT, size: TICK_SIZE, weight: 'bold' },
            padding: 26, autoSkip: false, callback: (v: any) => String(v),
          },
        },
      },
    },
    plugins: [decor],
  };
}

function insetConfig(p: PanelSpec, ins: InsetSpec): any {
  const bx = insetBox(ins);
  const decor = {
    id: 'insetDecor',
    beforeDraw(chart: any) {
      const ctx: CanvasRenderingContext2D = chart.ctx;
      const a = chart.chartArea;
      ctx.save();
      ctx.fillStyle = '#ffffff';
      ctx.fillRect(a.left, a.top, a.right - a.left, a.bottom - a.top);
      ctx.restore();
    },
    afterDatasetsDraw(chart: any) {
      const ctx: CanvasRenderingContext2D = chart.ctx;
      const a = chart.chartArea;
      const xs = chart.scales.x, ys = chart.scales.y;
      ctx.save();
      ctx.setLineDash([]);
      ctx.strokeStyle = '#1a1a1a';
      ctx.lineWidth = 4;
      ctx.strokeRect(a.left, a.top, a.right - a.left, a.bottom - a.top);
      const tl = 8;
      ctx.lineWidth = 3;
      ins.yTicks.forEach((v) => {
        const py = ys.getPixelForValue(v);
        if (py > a.top + 2 && py < a.bottom - 2) { line(ctx, a.left, py, a.left + tl, py); line(ctx, a.right, py, a.right - tl, py); }
      });
      ins.xTicks.forEach((v) => {
        const px = xs.getPixelForValue(v);
        if (px > a.left + 2 && px < a.right - 2) { line(ctx, px, a.bottom, px, a.bottom - tl); line(ctx, px, a.top, px, a.top + tl); }
      });
      ctx.restore();
    },
  };
  return {
    type: 'line',
    data: { datasets: makeDatasets(p.series, true) },
    options: {
      responsive: false, maintainAspectRatio: false, animation: false, devicePixelRatio: 1, events: [],
      layout: { padding: { left: 0, top: bx.T, right: bx.R, bottom: 0 }, autoPadding: false },
      plugins: { legend: { display: false }, tooltip: { enabled: false }, title: { display: false } },
      scales: {
        x: {
          type: 'linear', min: ins.xMin, max: ins.xMax,
          afterFit: (s: any) => { s.height = bx.B; },
          afterBuildTicks: (s: any) => { s.ticks = ins.xTicks.map((v) => ({ value: v })); },
          grid: { display: ins.xGrid, color: 'rgba(0,0,0,0.17)', lineWidth: 3, drawTicks: false },
          border: { display: false },
          ticks: {
            display: ins.xLabels, color: '#000', font: { family: FONT, size: 40, weight: 'bold' },
            padding: 20, maxRotation: 0, autoSkip: false, callback: (v: any) => String(v),
          },
        },
        y: {
          type: 'linear', min: ins.yMin, max: ins.yMax,
          afterFit: (s: any) => { s.width = bx.L; },
          afterBuildTicks: (s: any) => { s.ticks = ins.yTicks.map((v) => ({ value: v })); },
          grid: { color: 'rgba(0,0,0,0.17)', lineWidth: 3, drawTicks: false },
          border: { display: false },
          ticks: {
            color: '#000', font: { family: FONT, size: 40, weight: 'bold' },
            padding: 18, autoSkip: false, callback: (v: any) => String(v),
          },
        },
      },
    },
    plugins: [decor],
  };
}

function Panel({ spec }: { spec: PanelSpec }) {
  const mainRef = useRef<HTMLCanvasElement | null>(null);
  const insetRefs = useRef<(HTMLCanvasElement | null)[]>([]);
  useEffect(() => {
    const charts: Chart[] = [];
    if (mainRef.current) charts.push(new Chart(mainRef.current, mainConfig(spec)));
    spec.insets.forEach((ins, i) => {
      const c = insetRefs.current[i];
      if (c) charts.push(new Chart(c, insetConfig(spec, ins)));
    });
    return () => { charts.forEach((c) => c.destroy()); };
  }, [spec]);
  const mb = mainBox(spec);
  return (
    <>
      <canvas
        ref={mainRef}
        width={mb.W}
        height={mb.H}
        style={{ position: 'absolute', left: mb.left, top: mb.top, width: mb.W, height: mb.H, zIndex: 1 }}
      />
      {spec.insets.map((ins, i) => {
        const ib = insetBox(ins);
        return (
          <canvas
            key={i}
            ref={(el) => { insetRefs.current[i] = el; }}
            width={ib.W}
            height={ib.H}
            style={{ position: 'absolute', left: ib.left, top: ib.top, width: ib.W, height: ib.H, zIndex: 2 }}
          />
        );
      })}
    </>
  );
}

export default function App() {
  return (
    <div
      style={{
        position: 'fixed', left: 0, top: 0, width: 4048, height: 2170,
        background: '#ffffff', overflow: 'hidden',
      }}
    >
      {panels.map((p, i) => (
        <Panel key={i} spec={p} />
      ))}
    </div>
  );
}
